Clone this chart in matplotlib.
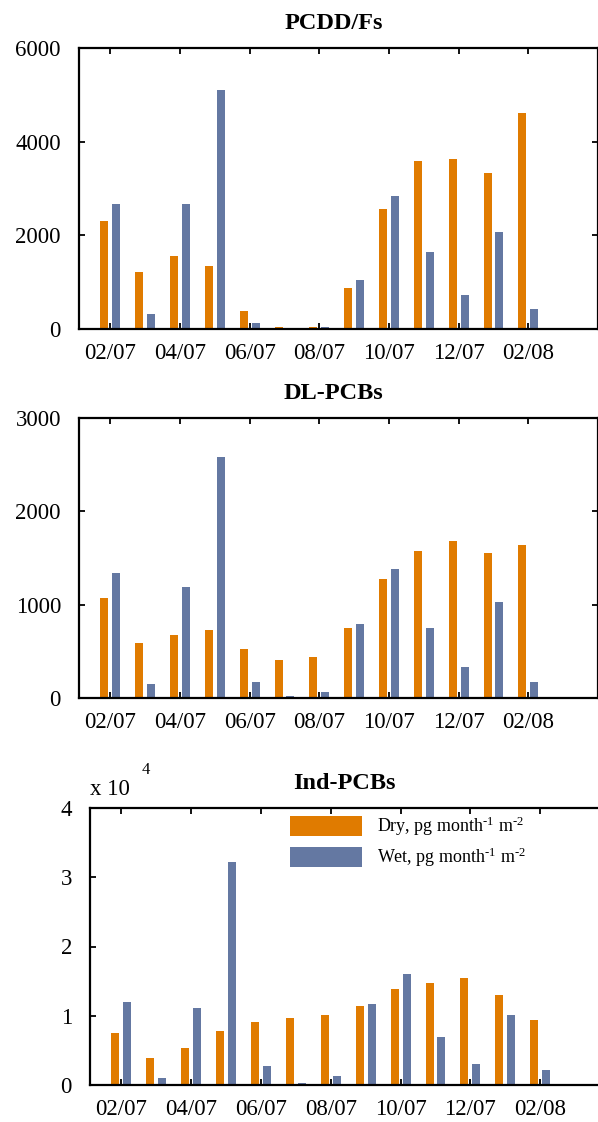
import matplotlib
matplotlib.use("Agg")
import matplotlib.pyplot as plt
import numpy as np

plt.rcParams['font.family'] = ['Liberation Serif', 'DejaVu Serif']
plt.rcParams['mathtext.fontset'] = 'custom'
plt.rcParams['mathtext.rm'] = 'Liberation Serif'
plt.rcParams['mathtext.it'] = 'Liberation Serif:italic'

months = ['02/07', '03/07', '04/07', '05/07', '06/07', '07/07', '08/07',
          '09/07', '10/07', '11/07', '12/07', '01/08', '02/08']

# PCDD/Fs
pcdd_dry = [2300, 1210, 1560, 1340, 390, 50, 50, 880, 2560, 3580, 3620, 3340, 4620]
pcdd_wet = [2660, 326, 2660, 5110, 135, 5, 40, 1040, 2830, 1640, 730, 2080, 432]

# DL-PCBs
dl_dry = [1070, 590, 675, 728, 525, 408, 440, 749, 1271, 1580, 1686, 1558, 1644]
dl_wet = [1335, 153, 1186, 2581, 174, 25, 67, 792, 1377, 749, 334, 1026, 174]

# Ind-PCBs
ind_dry = [7450, 3890, 5310, 7730, 9160, 9730, 10150, 11440, 13860, 14710, 15420, 13000, 9440]
ind_wet = [12000, 1040, 11150, 32220, 2750, 330, 1330, 11720, 15990, 6880, 3040, 10150, 2180]

dry_color = '#E07B00'
wet_color = '#6478A2'
W, H = 598, 1122


def panel(rect, dry, wet, title, ymax, yticks, scale=1.0):
    ax = fig.add_axes(rect)
    x = np.arange(len(months))
    ax.bar(x - 0.17, np.array(dry) / scale, 0.23, color=dry_color,
           label='Dry, pg month$^{\u20101}$ m$^{\u20102}$')
    ax.bar(x + 0.17, np.array(wet) / scale, 0.23, color=wet_color,
           label='Wet, pg month$^{\u20101}$ m$^{\u20102}$')
    ax.set_xlim(-0.9, 14.0)
    ax.set_ylim(0, ymax)
    ax.set_yticks(yticks)
    ax.set_xticks(x[::2])
    ax.set_xticklabels(months[::2])
    ax.tick_params(direction='in', top=True, right=True, length=4, width=1.3,
                   labelsize=16.5)
    ax.tick_params(axis='y', pad=13)
    ax.tick_params(axis='x', pad=10)
    for s in ax.spines.values():
        s.set_linewidth(1.6)
    ax.set_title(title, fontsize=17.5, fontweight='bold', pad=14, x=0.49)
    return ax


fig = plt.figure(figsize=(W / 100, H / 100), dpi=100)

panel([79 / W, 1 - 329 / H, (598 - 79) / W, 281 / H], pcdd_dry, pcdd_wet,
      'PCDD/Fs', 6000, [0, 2000, 4000, 6000])
panel([79 / W, 1 - 698 / H, (598 - 79) / W, 280 / H], dl_dry, dl_wet,
      'DL-PCBs', 3000, [0, 1000, 2000, 3000])
ax3 = panel([90 / W, 1 - 1085 / H, (610 - 90) / W, 277 / H], ind_dry, ind_wet,
            'Ind-PCBs', 4, [0, 1, 2, 3, 4], scale=1e4)

ax3.text(0.0, 1.03, 'x 10', transform=ax3.transAxes, fontsize=16.5, ha='left', va='bottom')
ax3.text(0.10, 1.11, '4', transform=ax3.transAxes, fontsize=12, ha='left', va='bottom')
ax3.legend(loc='upper left', bbox_to_anchor=(0.385, 0.975), frameon=False,
           fontsize=13, handlelength=4.0, handleheight=1.35, labelspacing=0.42,
           handletextpad=0.8, borderpad=0, borderaxespad=0)

fig.savefig('out.png', dpi=100)
